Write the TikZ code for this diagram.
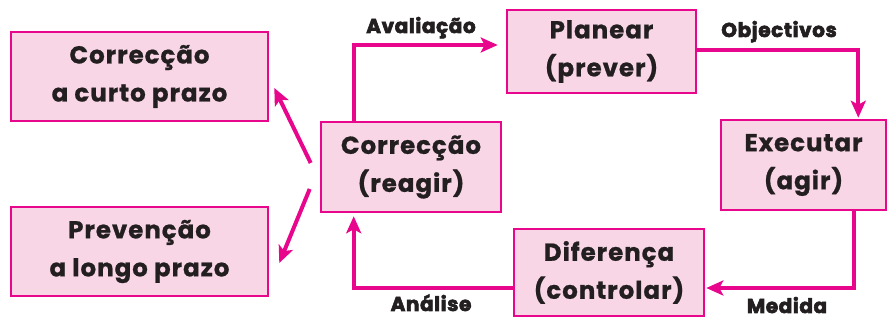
\documentclass[tikz,border=0pt]{standalone}
\usepackage{fontspec}
\setmainfont{Poppins}[BoldFeatures={FakeBold=0.8}, LetterSpace=4]
\newfontfamily\labfont{Poppins}[BoldFeatures={FakeBold=3}, LetterSpace=3]
\usetikzlibrary{arrows.meta}
\definecolor{mag}{HTML}{E8068C}
\definecolor{pinkfill}{HTML}{F9D6E6}
\definecolor{ink}{HTML}{231F20}
\tikzset{
  x=1pt, y=-1pt,
  box/.style={draw=mag, fill=pinkfill, line width=2.6pt, rectangle, align=center,
    font=\fontsize{24.5}{38}\selectfont\bfseries, text=ink, inner sep=0pt},
  arr/.style={draw=mag, line width=4pt, -{Stealth[length=17pt,width=15pt,inset=4pt]}},
  lab/.style={font=\labfont\fontsize{20}{20}\selectfont\bfseries, text=ink, inner sep=0pt}
}
\begin{document}
\begin{tikzpicture}
\useasboundingbox (0,0) rectangle (889,320);
\node[box, minimum width=257pt, minimum height=89pt] (curto) at (139.5,76.5) {Correcção\\a curto prazo};
\node[box, minimum width=257pt, minimum height=89pt] (longo) at (139.5,251.5) {Prevenção\\a longo prazo};
\node[box, minimum width=180pt, minimum height=90pt] (reag) at (411,167) {Correcção\\(reagir)};
\node[box, minimum width=189pt, minimum height=83pt] (plan) at (601.5,51.5) {Planear\\(prever)};
\node[box, minimum width=165pt, minimum height=90pt] (exec) at (803.5,165) {Executar\\(agir)};
\node[box, minimum width=190pt, minimum height=87pt] (dif) at (609,272.5) {Diferença\\(controlar)};
% connectors
\coordinate (aval) at ([xshift=-8pt,yshift=6.5pt]plan.west);
\draw[arr] ([xshift=34pt]reag.north west) |- (aval);
\coordinate (objt) at ([xshift=-29pt,yshift=1pt]exec.north east);
\draw[arr] ([yshift=1.5pt]plan.east) -| (objt);
\coordinate (medt) at ([xshift=1pt,yshift=-15.5pt]dif.east);
\draw[arr] ([xshift=-33pt]exec.south east) |- (medt);
\coordinate (anat) at ([xshift=34pt,yshift=-3pt]reag.south west);
\draw[arr] ([yshift=-15.5pt]dif.west) -| (anat);
\coordinate (ct) at ([xshift=5pt,yshift=-11.5pt]curto.east);
\draw[arr] ([xshift=-9pt,yshift=4pt]reag.west) -- (ct);
\coordinate (lt) at ([xshift=10pt,yshift=-11.5pt]longo.east);
\draw[arr] ([xshift=-10pt,yshift=-22pt]reag.west) -- (lt);
% labels
\node[lab, anchor=base] (l1) at (421,33) {Avaliação};
\node[lab, anchor=base] (l2) at (779,37) {Objectivos};
\node[lab, anchor=base] (l3) at (787,313) {Medida};
\node[lab, anchor=base] (l4) at (431,311) {Análise};
\end{tikzpicture}
\end{document}
